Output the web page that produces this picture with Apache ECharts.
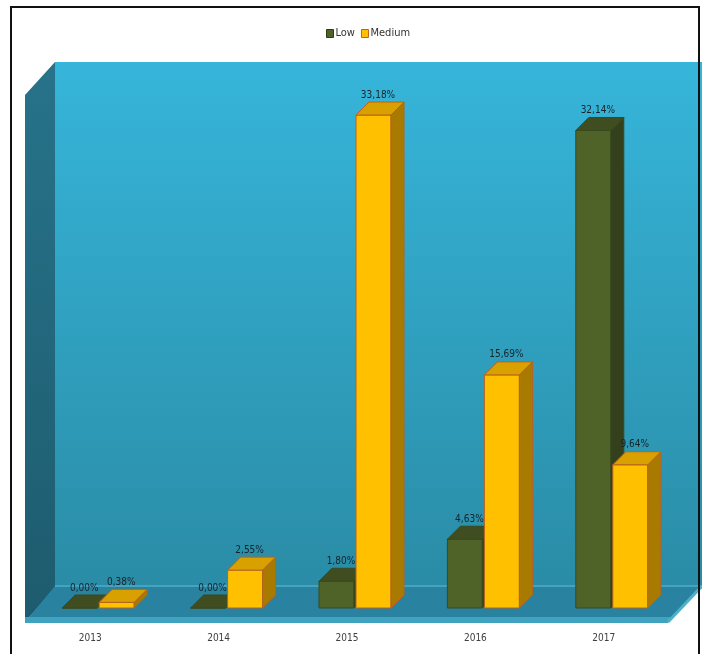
<!DOCTYPE html>
<html>
<head>
    <meta charset="utf-8">
    <script src="https://cdn.jsdelivr.net/npm/echarts@6/dist/echarts.min.js"></script>
</head>
<body style="margin:0;background:#fff;">
<div id="main" style="width: 702px;height:654px;"></div>
<script type="text/javascript">
    // chart values
    var categories = ['2013', '2014', '2015', '2016', '2017'];
    var lowValues = [0.00, 0.00, 1.80, 4.63, 32.14];
    var mediumValues = [0.38, 2.55, 33.18, 15.69, 9.64];

    var FAMILY = "'Liberation Sans Narrow', 'DejaVu Sans Condensed', sans-serif";
    var FONT = "10px " + FAMILY;
    var W = 35;   // front face width
    var D = 13;   // depth offset

    function pct(v) {
        return v.toFixed(2).replace('.', ',') + '%';
    }

    // 3d-looking box, drawn from the axis coords
    function box(offset, c) {
        return function (params, api) {
            var i = api.value(0), v = api.value(1);
            var top = api.coord([i, v]);
            var base = api.coord([i, 0]);
            var x0 = top[0] + offset, x1 = x0 + W;
            var yT = top[1], yB = base[1];
            return {
                type: 'group',
                children: [
                    {type: 'polygon', shape: {points: [[x0, yB], [x1, yB], [x1, yT], [x0, yT]]},
                        style: {fill: c.front, stroke: c.edge, lineWidth: 1}},
                    {type: 'polygon', shape: {points: [[x1, yB], [x1 + D, yB - D], [x1 + D, yT - D], [x1, yT]]},
                        style: {fill: c.side, stroke: c.edge, lineWidth: 1}},
                    {type: 'polygon', shape: {points: [[x0, yT], [x1, yT], [x1 + D, yT - D], [x0 + D, yT - D]]},
                        style: {fill: c.top, stroke: c.edge, lineWidth: 1}},
                    {type: 'text', style: {text: pct(v), x: x0 + 22, y: yT - D - 2,
                        align: 'center', verticalAlign: 'bottom', font: FONT, fill: '#16242a'}}
                ]
            };
        };
    }

    var lowColors = {front: '#4F6228', top: '#3F4D20', side: '#34401B', edge: '#3a4a1e'};
    var medColors = {front: '#FFC000', top: '#D9A100', side: '#A87B00', edge: '#B8621E'};

    var myChart = echarts.init(document.getElementById('main'));
    var option = {
        animation: false,
        backgroundColor: '#fff',
        legend: {
            top: 23,
            left: 321,
            itemWidth: 7,
            itemHeight: 8,
            itemGap: 6,
            icon: 'rect',
            textStyle: {fontSize: 11, color: '#333', fontFamily: FAMILY, padding: [0, 0, 0, -3]},
            data: [
                {name: 'Low', itemStyle: {color: '#4F6228', borderColor: '#2f3a16', borderWidth: 1}},
                {name: 'Medium', itemStyle: {color: '#FFC000', borderColor: '#C0601A', borderWidth: 1}}
            ]
        },
        graphic: [
            // back wall
            {type: 'rect', z: -10, shape: {x: 55, y: 62, width: 647, height: 526},
                style: {fill: new echarts.graphic.LinearGradient(0, 0, 0, 1, [
                    {offset: 0, color: '#36B5DA'}, {offset: 1, color: '#2A8CA6'}])}},
            // side wall
            {type: 'polygon', z: -10, shape: {points: [[25, 95], [55, 62], [55, 588], [25, 622]]},
                style: {fill: new echarts.graphic.LinearGradient(0, 0, 0, 1, [
                    {offset: 0, color: '#27738A'}, {offset: 1, color: '#1E5B6E'}])}},
            // floor
            {type: 'polygon', z: -10, shape: {points: [[55, 586], [702, 586], [668, 622], [25, 622]]},
                style: {fill: '#2882A0'}},
            {type: 'line', z: -10, shape: {x1: 55, y1: 586, x2: 702, y2: 586},
                style: {stroke: '#44A4BF', lineWidth: 2}},
            {type: 'polygon', z: -10, shape: {points: [[25, 617], [672, 617], [668, 623], [25, 623]]},
                style: {fill: '#3FA2BE'}},
            {type: 'line', z: -10, shape: {x1: 668, y1: 622, x2: 702, y2: 586},
                style: {stroke: '#4FB0CA', lineWidth: 3}},
            // outer frame
            {type: 'rect', z: 100, shape: {x: 11, y: 7, width: 688, height: 660},
                style: {fill: 'none', stroke: '#111', lineWidth: 2}}
        ],
        grid: {left: 26, right: 34, top: 62, bottom: 46},
        xAxis: {
            type: 'category',
            data: categories,
            axisLine: {show: false},
            axisTick: {show: false},
            axisLabel: {margin: 25, fontSize: 10, color: '#404040', fontFamily: FAMILY}
        },
        yAxis: {
            type: 'value',
            min: 0,
            max: 36.75,
            show: false,
            splitLine: {show: false}
        },
        series: [
            {
                name: 'Low',
                type: 'custom',
                renderItem: box(-28, lowColors),
                itemStyle: {color: '#4F6228'},
                encode: {x: 0, y: 1},
                data: lowValues.map(function (v, i) { return [i, v]; })
            },
            {
                name: 'Medium',
                type: 'custom',
                renderItem: box(9, medColors),
                itemStyle: {color: '#FFC000'},
                encode: {x: 0, y: 1},
                data: mediumValues.map(function (v, i) { return [i, v]; })
            }
        ]
    };
    myChart.setOption(option);
</script>
</body>
</html>
